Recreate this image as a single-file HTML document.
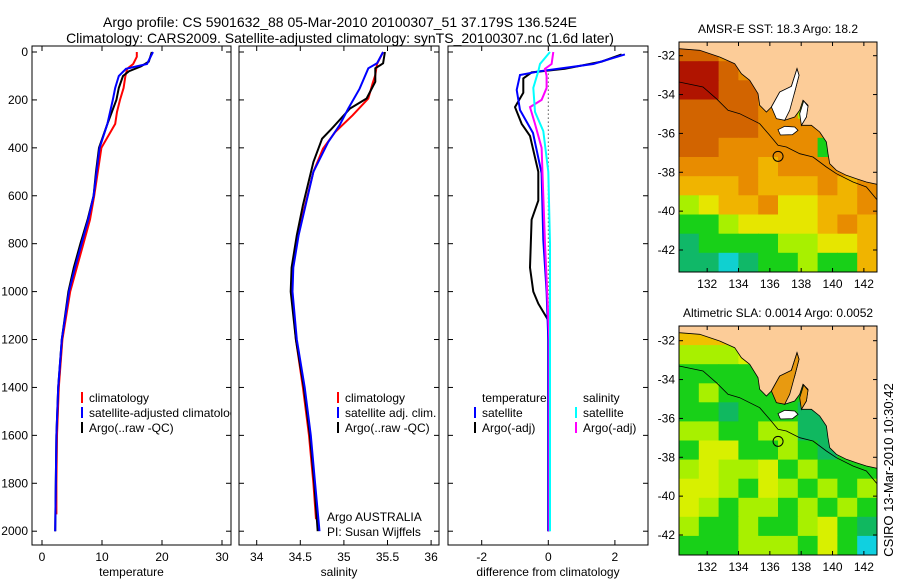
<!DOCTYPE html>
<html><head><meta charset="utf-8"><style>
html,body{margin:0;padding:0;background:#fff}
svg{display:block;font-family:"Liberation Sans",sans-serif}
text{fill:#000}
</style></head><body>
<svg id="fig" width="900" height="580" viewBox="0 0 900 580" xmlns="http://www.w3.org/2000/svg">
<defs>
<clipPath id="c1"><rect x="32" y="46" width="199" height="499"/></clipPath>
<clipPath id="c2"><rect x="239" y="46" width="200" height="499"/></clipPath>
<clipPath id="c3"><rect x="448" y="46" width="200" height="499"/></clipPath>
<clipPath id="cm1"><rect x="679" y="42" width="198" height="230"/></clipPath>
<clipPath id="cm2"><rect x="679" y="326" width="198" height="229"/></clipPath>
</defs>
<text x="340" y="27" font-size="14" text-anchor="middle">Argo profile: CS 5901632_88 05-Mar-2010 20100307_51 37.179S 136.524E</text>
<text x="340" y="43" font-size="14" text-anchor="middle">Climatology: CARS2009. Satellite-adjusted climatology: synTS_20100307.nc (1.6d later)</text>
<g id="g1"></g>
<g id="g2"></g>
<g id="g3"></g>
<g id="m1"></g>
<g id="m2"></g>
<text x="0" y="0" font-size="13" text-anchor="middle" transform="translate(893,470) rotate(-90)">CSIRO 13-Mar-2010 10:30:42</text>
</svg>
<script>
const NS="http://www.w3.org/2000/svg";
// ---------- data ----------
const tDepthClim=[0,20,50,70,100,150,200,250,300,400,500,600,700,800,900,1000,1200,1400,1600,1800,1930];
const tClim=[15.8,15.8,15.2,14.2,13.9,13.6,13.0,12.5,12.2,9.9,9.3,8.7,8.0,6.9,5.8,4.7,3.4,2.8,2.5,2.4,2.4];
const tDepthArgo=[0,40,60,80,100,150,200,300,400,500,600,700,800,900,1000,1200,1400,1600,1800,2000];
const tArgo=[18.3,17.8,16.5,14.5,13.5,12.8,12.4,10.9,9.5,9.0,8.6,7.6,6.4,5.3,4.4,3.3,2.7,2.4,2.3,2.2];
const tDepthSat=[0,50,70,100,150,200,300,400,500,600,700,800,900,1000,1200,1400,1600,1800,2000];
const tSat=[18.5,17.5,14.0,12.8,12.2,11.8,10.9,9.6,9.1,8.6,7.7,6.6,5.5,4.5,3.3,2.7,2.4,2.3,2.2];
const sDepthClim=[0,50,96,130,194,264,334,403,500,765,900,1000,1200,1400,1600,1800,1950];
const sClim=[35.45,35.38,35.36,35.33,35.28,35.1,34.9,34.76,34.65,34.47,34.41,34.4,34.45,34.53,34.6,34.65,34.68];
const sDepthArgo=[0,47,68,124,194,236,320,362,459,640,765,900,1000,1200,1400,1600,1800,2000];
const sArgo=[35.47,35.45,35.36,35.36,35.26,35.07,34.86,34.75,34.65,34.53,34.46,34.4,34.39,34.45,34.54,34.61,34.66,34.7];
const sDepthSat=[0,47,68,153,236,306,376,500,765,900,1000,1200,1400,1600,1800,2000];
const sSat=[35.45,35.38,35.28,35.18,35.05,34.95,34.82,34.65,34.48,34.42,34.41,34.46,34.55,34.62,34.67,34.72];
const dDepthTS=[10,50,80,96,158,242,338,506,785,1000,1200,2000];
const dTempSat=[2.3,1.35,-0.25,-0.85,-0.95,-0.85,-0.46,-0.2,-0.15,-0.05,0,0];
const dDepthTA=[10,40,70,85,110,170,230,300,350,500,620,700,900,1000,1050,1120,1300,2000];
const dTempArgo=[2.2,1.6,0.5,-0.5,-0.75,-0.75,-1.0,-0.8,-0.55,-0.3,-0.3,-0.5,-0.55,-0.45,-0.3,0,0,0];
const dDepthSS=[0,50,80,150,250,330,500,800,1200,2000];
const dSalSat=[0.05,-0.25,-0.3,-0.45,-0.4,-0.15,0,0.05,0.05,0.05];
const dDepthSA=[0,50,70,100,150,200,230,300,400,600,800,1200,2000];
const dSalArgo=[0.15,0.1,-0.1,-0.05,-0.05,-0.2,-0.55,-0.4,-0.2,-0.15,-0.1,0.03,0.03];
const depthTicks=[0,200,400,600,800,1000,1200,1400,1600,1800,2000];
const tTicks=[0,10,20,30];
const sTicks=[34,34.5,35,35.5,36];
const dTicks=[-2,0,2];
const lonTicks=[132,134,136,138,140,142];
const latTicks=[-32,-34,-36,-38,-40,-42];
const sstGrid=["OOooYyyyyy","RROooYyyyy","RROOoYyyyy","OOOOoolooo","OOOOoooooo","OOoooooGCg","ooooYooooG","YYYoYYYoYo","lyYYoyyYYo","GGlyyyyYoY","gGGGGllyyY","ggCgGGlGGY"];
const slaGrid=["YYYyyyoooo","lllyyYoooo","GGGGlyyooo","GlGGGGGlyy","GGgGGGgggG","llGGllgggG","GyyGGlGgGG","lyllyGlGGG","yylGylGlGl","ylGllGlGlG","lGGlGGlyGg","GGGlllGyGC"];

// ---------- helpers ----------
function mk(tag,parent,attrs){const e=document.createElementNS(NS,tag);for(const k in attrs)e.setAttribute(k,attrs[k]);parent.appendChild(e);return e;}
const yD=d=>52+d*0.2396;
const xT=v=>42+v*6;
const xS=v=>256.7+(v-34)*87.2;
const xDf=v=>548.3+v*33.3;

function frame(g,x0,x1,xfun,ticks,label,leftLabels){
  const box=mk('rect',g,{x:x0,y:46,width:x1-x0,height:499,fill:'none',stroke:'#000','stroke-width':1});
  
  
  depthTicks.forEach(d=>{
    const y=yD(d);
    mk('line',g,{x1:x0,x2:x0+5,y1:y,y2:y,stroke:'#000'});
    mk('line',g,{x1:x1-5,x2:x1,y1:y,y2:y,stroke:'#000'});
    if(leftLabels){const t=mk('text',g,{x:x0-4,y:y+4,'font-size':12,'text-anchor':'end'});t.textContent=d;
      
      }
  });
  ticks.forEach(v=>{
    const x=xfun(v);
    mk('line',g,{x1:x,x2:x,y1:46,y2:51,stroke:'#000'});
    mk('line',g,{x1:x,x2:x,y1:540,y2:545,stroke:'#000'});
    const t=mk('text',g,{x:x,y:561,'font-size':12,'text-anchor':'middle'});t.textContent=v;
    
    
  });
  const xl=mk('text',g,{x:(x0+x1)/2,y:576,'font-size':12,'text-anchor':'middle'});xl.textContent=label;
  
  
}
function line(g,depths,vals,xfun,color,name,clip){
  const pts=depths.map((d,i)=>xfun(vals[i]).toFixed(1)+','+yD(d).toFixed(1)).join(' ');
  const p=mk('polyline',g,{points:pts,fill:'none',stroke:color,'stroke-width':2,'clip-path':'url(#'+clip+')'});
  
  
}
function legend(g,x,y,color,label,clip){
  if(color){const b=mk('rect',g,{x:x,y:y-6,width:2,height:11,fill:color});
    
    }
  const t=mk('text',g,{x:x+8,y:y+4,'font-size':12,'clip-path':'url(#'+clip+')'});t.textContent=label;
  
  
}

// ---------- panel 1 ----------
const g1=document.getElementById('g1');
frame(g1,32,231,xT,tTicks,'temperature',true);
line(g1,tDepthClim,tClim,xT,'#f00','climatology-temp-line','c1');
line(g1,tDepthArgo,tArgo,xT,'#000','argo-temp-line','c1');
line(g1,tDepthSat,tSat,xT,'#00f','satellite-temp-line','c1');
legend(g1,81,398,'#f00','climatology','c1');
legend(g1,81,413,'#00f','satellite-adjusted climatology','c1');
legend(g1,81,428,'#000','Argo(..raw -QC)','c1');

// ---------- panel 2 ----------
const g2=document.getElementById('g2');
frame(g2,239,439,xS,sTicks,'salinity',false);
line(g2,sDepthClim,sClim,xS,'#f00','climatology-sal-line','c2');
line(g2,sDepthArgo,sArgo,xS,'#000','argo-sal-line','c2');
line(g2,sDepthSat,sSat,xS,'#00f','satellite-sal-line','c2');
legend(g2,337,398,'#f00','climatology','c2');
legend(g2,337,413,'#00f','satellite adj. clim.','c2');
legend(g2,337,428,'#000','Argo(..raw -QC)','c2');
legend(g2,319,517,null,'Argo AUSTRALIA','c2');
legend(g2,319,532,null,'PI: Susan Wijffels','c2');

// ---------- panel 3 ----------
const g3=document.getElementById('g3');
frame(g3,448,648,xDf,dTicks,'difference from climatology',false);
const zl=mk('line',g3,{x1:xDf(0),x2:xDf(0),y1:yD(90),y2:yD(2000),stroke:'#000','stroke-dasharray':'1,3'});


line(g3,dDepthTA,dTempArgo,xDf,'#000','argo-temp-diff-line','c3');
line(g3,dDepthTS,dTempSat,xDf,'#00f','satellite-temp-diff-line','c3');
line(g3,dDepthSA,dSalArgo,xDf,'#f0f','argo-sal-diff-line','c3');
line(g3,dDepthSS,dSalSat,xDf,'#0ff','satellite-sal-diff-line','c3');
legend(g3,474,398,null,'temperature','c3');
legend(g3,474,413,'#00f','satellite','c3');
legend(g3,474,428,'#000','Argo(-adj)','c3');
legend(g3,575,398,null,'salinity','c3');
legend(g3,575,413,'#0ff','satellite','c3');
legend(g3,575,428,'#f0f','Argo(-adj)','c3');

// ---------- maps ----------
const sstCol={R:'#b01400',O:'#d26400',o:'#e88c00',Y:'#f0b400',y:'#e6e600',l:'#a8f000',G:'#18d018',g:'#10b868',C:'#10d0d0'};
const slaCol={R:'#d06000',O:'#e08000',o:'#e8a000',Y:'#f0c000',y:'#d8f000',l:'#a8f000',G:'#18d018',g:'#10b860',C:'#10d0e0'};
const coast=[[58,115],[120,120],[180,140],[225,160],[245,190],[270,210],[295,250],[300,285],[320,305],[335,290],[360,245],[395,228],[412,175],[418,195],[405,245],[385,300],[375,330],[405,320],[420,300],[430,270],[445,285],[440,320],[425,345],[455,345],[480,365],[500,395],[505,430],[510,460],[530,480],[560,495],[590,505],[620,515],[652,522],[652,95],[58,95]];
const spencer=[[335,290],[360,245],[395,228],[412,175],[418,195],[405,245],[390,300],[375,330],[350,325]];
const vincent=[[425,345],[420,310],[432,272],[445,288],[440,320]];
const kangaroo=[[355,358],[375,348],[405,350],[415,360],[398,373],[362,374]];
const contour=[[58,215],[130,230],[170,265],[205,300],[240,310],[300,340],[330,375],[355,405],[380,410],[420,430],[460,440],[500,470],[530,490],[580,515],[620,530],[652,568]];
function map(id,x0,y0,h,lat32y,title,grid,cols,gulfFill,clip){
  const g=document.getElementById(id);
  const W=198,rows=grid.length,nc=grid[0].length;
  const cw=W/nc,rh=h/rows;
  grid.forEach((row,r)=>{[...row].forEach((ch,c)=>{
    const cell=mk('rect',g,{x:(x0+c*cw).toFixed(1),y:(y0+r*rh).toFixed(1),width:(cw+0.6).toFixed(1),height:(rh+0.6).toFixed(1),fill:cols[ch],'clip-path':'url(#'+clip+')'});
    
    
  });});
  const tp=a=>a.map(p=>(x0+p[0]/3-19.3).toFixed(1)+','+(y0+(p[1]-95)/3).toFixed(1)).join(' ');
  const land=mk('polygon',g,{points:tp(coast),fill:'#fccc98',stroke:'#000','stroke-width':0.8,'clip-path':'url(#'+clip+')'});
  
  
  [spencer,vincent].forEach(pg=>{const e=mk('polygon',g,{points:tp(pg),fill:gulfFill,stroke:'#000','stroke-width':0.8});
    
    });
  const ki=mk('polygon',g,{points:tp(kangaroo),fill:'#fff',stroke:'#000','stroke-width':0.8});
  
  
  const ct=mk('polyline',g,{points:tp(contour),fill:'none',stroke:'#000','stroke-width':0.8,'clip-path':'url(#'+clip+')'});
  
  
  const lonX=l=>x0-1.6+(l-130.1)*15.67;
  const latY=l=>lat32y+(-32-l)*19.43;
  const circ=mk('circle',g,{cx:lonX(136.524),cy:latY(-37.179),r:5,fill:'none',stroke:'#000','stroke-width':1});
  
  
  const fr=mk('rect',g,{x:x0,y:y0,width:W,height:h,fill:'none',stroke:'#000'});
  
  
  lonTicks.forEach(l=>{const x=lonX(l);
    mk('line',g,{x1:x,x2:x,y1:y0,y2:y0+4,stroke:'#000'});
    mk('line',g,{x1:x,x2:x,y1:y0+h-4,y2:y0+h,stroke:'#000'});
    const t=mk('text',g,{x:x,y:y0+h+16,'font-size':12,'text-anchor':'middle'});t.textContent=l;
    
    });
  latTicks.forEach(l=>{const y=latY(l);
    mk('line',g,{x1:x0,x2:x0+4,y1:y,y2:y,stroke:'#000'});
    mk('line',g,{x1:x0+W-4,x2:x0+W,y1:y,y2:y,stroke:'#000'});
    const t=mk('text',g,{x:x0-4,y:y+4,'font-size':12,'text-anchor':'end'});t.textContent=l;
    
    });
  const tt=mk('text',g,{x:x0+W/2,y:y0-9,'font-size':12,'text-anchor':'middle'});tt.textContent=title;
  
  
}
map('m1',679,42,230,55.7,'AMSR-E SST: 18.3 Argo: 18.2',sstGrid,sstCol,'#fff','cm1');
map('m2',679,326,229,340.7,'Altimetric SLA: 0.0014 Argo: 0.0052',slaGrid,slaCol,'#e89a10','cm2');
</script>
</body></html>
